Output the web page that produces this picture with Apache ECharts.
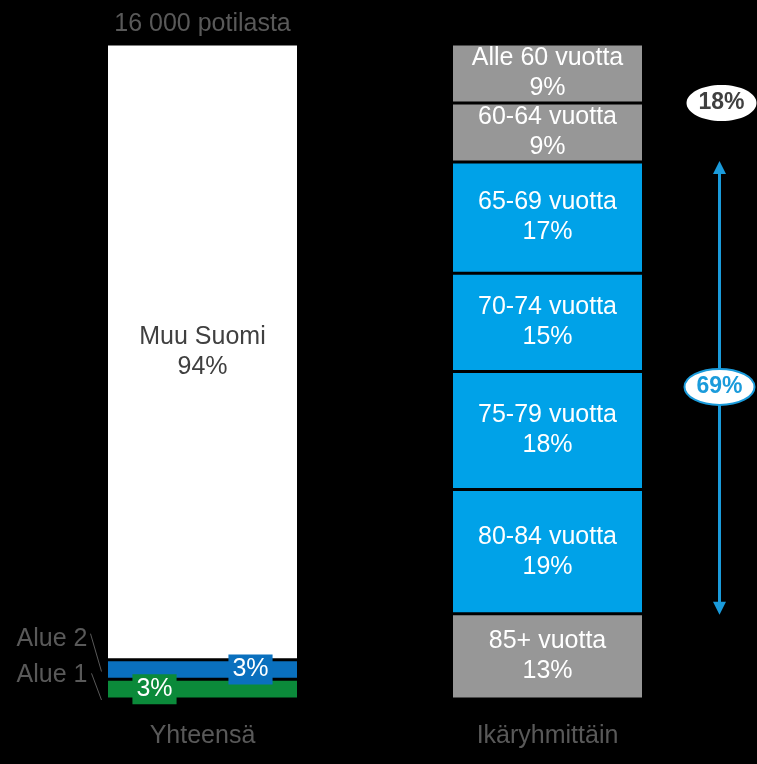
<!DOCTYPE html>
<html>
<head>
<meta charset="utf-8">
<script src="https://cdn.jsdelivr.net/npm/echarts@6/dist/echarts.min.js"></script>
<style>
  html, body { margin: 0; padding: 0; background: #000; }
  #chart { width: 757px; height: 764px; }
</style>
</head>
<body>
<div id="chart"></div>
<script>
// data
var categories = ["Yhteensä", "Ikäryhmittäin"];
var topLabels = ["16 000 potilasta", ""];
var regionNames = ["Alue 1", "Alue 2", "Muu Suomi"];
var regionValues = [3, 3, 94];
var regionColors = ["#0b8a3a", "#0a70be", "#ffffff"];
var ageNames = ["85+ vuotta", "80-84 vuotta", "75-79 vuotta", "70-74 vuotta", "65-69 vuotta", "60-64 vuotta", "Alle 60 vuotta"];
var ageValues = [13, 19, 18, 15, 17, 9, 9];
var ageColors = ["#979797", "#00a2e8", "#00a2e8", "#00a2e8", "#00a2e8", "#979797", "#979797"];

var FONT = "'Liberation Sans', Arial, sans-serif";
var GREY_TEXT = "#595959";
var ARROW_BLUE = "#1a9bdb";

var chart = echarts.init(document.getElementById("chart"));

var series = [];
regionNames.forEach(function (name, i) {
  var label = {
    show: true,
    color: "#fff",
    fontSize: 25,
    fontFamily: FONT,
    lineHeight: 24,
    formatter: "{c}%",
  };
  if (i == 0) {
    label.backgroundColor = regionColors[i];
    label.padding = [3, 4];
    label.offset = [-48, 0];
  } else if (i == 1) {
    label.backgroundColor = regionColors[i];
    label.padding = [3, 4];
    label.offset = [48, 0];
  } else {
    // Muu Suomi
    label.color = "#404040";
    label.lineHeight = 30;
    label.formatter = "{a}\n{c}%";
  }
  series.push({
    name: name,
    type: "bar",
    stack: "total",
    barWidth: 192,
    itemStyle: { color: regionColors[i], borderColor: "#000", borderWidth: 1.5 },
    label: label,
    data: [regionValues[i], "-"],
  });
});
ageNames.forEach(function (name, i) {
  series.push({
    name: name,
    type: "bar",
    stack: "total",
    barWidth: 192,
    itemStyle: { color: ageColors[i], borderColor: "#000", borderWidth: 1.5 },
    label: {
      show: true,
      color: "#fff",
      fontSize: 25,
      fontFamily: FONT,
      lineHeight: 30,
      formatter: "{a}\n{c}%",
    },
    data: ["-", ageValues[i]],
  });
});

chart.setOption({
  backgroundColor: "#000",
  animation: false,
  grid: { left: 30, right: 37, top: 44, bottom: 65 },
  xAxis: [
    {
      type: "category",
      data: categories,
      axisLine: { show: false },
      axisTick: { show: false },
      axisLabel: { color: GREY_TEXT, fontSize: 25, fontFamily: FONT, margin: 25 },
    },
    {
      type: "category",
      position: "top",
      data: topLabels,
      axisLine: { show: false },
      axisTick: { show: false },
      axisLabel: { color: GREY_TEXT, fontSize: 25, fontFamily: FONT, margin: 7 },
    },
  ],
  yAxis: { type: "value", min: 0, max: 100, show: false },
  series: series,
});

// annotations placed from the axes
function xPx(i) { return chart.convertToPixel({ xAxisIndex: 0 }, i); }
function yPx(v) { return chart.convertToPixel({ yAxisIndex: 0 }, v); }

var half = 96;
var leftEdge = xPx(0) - half;
var rightEdge = xPx(1) + half;

var blueStart = ageValues[0];
var blueShare = ageValues[1] + ageValues[2] + ageValues[3] + ageValues[4];
var blueEnd = blueStart + blueShare;
var youngShare = ageValues[5] + ageValues[6];
var alue1 = regionValues[0];
var alue2 = alue1 + regionValues[1];

var ax = rightEdge + 76;
var yTop = yPx(blueEnd);
var yBot = yPx(blueStart);

chart.setOption({
  graphic: [
    {
      type: "text",
      style: { text: "Alue 2", x: leftEdge - 19, y: yPx(alue2) - 21, align: "right", verticalAlign: "middle",
        fill: GREY_TEXT, font: "25px " + FONT },
    },
    {
      type: "text",
      style: { text: "Alue 1", x: leftEdge - 19, y: yPx(alue1) - 4, align: "right", verticalAlign: "middle",
        fill: GREY_TEXT, font: "25px " + FONT },
    },
    {
      type: "line",
      shape: { x1: leftEdge - 16, y1: yPx(alue2) - 26, x2: leftEdge - 5, y2: yPx((alue1 + alue2) / 2) + 2 },
      style: { stroke: GREY_TEXT, lineWidth: 1 },
    },
    {
      type: "line",
      shape: { x1: leftEdge - 15, y1: yPx(alue1) - 6, x2: leftEdge - 5, y2: yPx(0) + 1 },
      style: { stroke: GREY_TEXT, lineWidth: 1 },
    },
    // double arrow
    {
      type: "line",
      shape: { x1: ax, y1: yTop + 8, x2: ax, y2: yBot - 8 },
      style: { stroke: ARROW_BLUE, lineWidth: 3 },
    },
    {
      type: "polygon",
      shape: { points: [[ax, yTop - 1], [ax - 6.5, yTop + 12], [ax + 6.5, yTop + 12]] },
      style: { fill: ARROW_BLUE },
    },
    {
      type: "polygon",
      shape: { points: [[ax, yBot + 1], [ax - 6.5, yBot - 12], [ax + 6.5, yBot - 12]] },
      style: { fill: ARROW_BLUE },
    },
    {
      type: "ellipse",
      shape: { cx: ax, cy: yPx((blueStart + blueEnd) / 2) - 1, rx: 35, ry: 18 },
      style: { fill: "#fff", stroke: ARROW_BLUE, lineWidth: 2 },
      z: 10,
    },
    {
      type: "text",
      z: 11,
      style: { text: blueShare + "%", x: ax, y: yPx((blueStart + blueEnd) / 2) - 1, align: "center", verticalAlign: "middle",
        fill: ARROW_BLUE, font: "bold 23px " + FONT },
    },
    {
      type: "ellipse",
      shape: { cx: ax + 2, cy: yPx(blueEnd + ageValues[5]), rx: 35, ry: 18 },
      style: { fill: "#fff" },
      z: 10,
    },
    {
      type: "text",
      z: 11,
      style: { text: youngShare + "%", x: ax + 2, y: yPx(blueEnd + ageValues[5]), align: "center", verticalAlign: "middle",
        fill: "#404040", font: "bold 23px " + FONT },
    },
  ],
});
</script>
</body>
</html>
